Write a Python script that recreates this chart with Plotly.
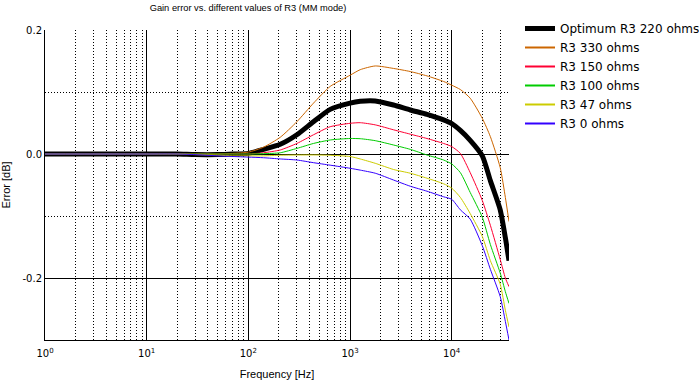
import plotly.graph_objects as go

# Frequency points (Hz)
freq = [1, 10, 20, 30, 50, 70, 100, 141, 206, 300, 437, 638, 1000, 1260, 1770,
        2680, 3915, 5710, 8320, 10000, 12160, 15200, 20000, 24000, 30000, 33700, 36600]

r3_220 = [0, 0, 0, -0.001, -0.001, 0, 0.001, 0.0075, 0.0156, 0.031, 0.052, 0.072, 0.082, 0.085, 0.0855,
          0.079, 0.071, 0.064, 0.055, 0.049, 0.038, 0.022, -0.003, -0.043, -0.09, -0.135, -0.172]
r3_330 = [0, 0, 0, 0, 0, 0.001, 0.003, 0.011, 0.027, 0.052, 0.082, 0.109, 0.127, 0.136, 0.142,
          0.138, 0.133, 0.126, 0.117, 0.111, 0.104, 0.09, 0.0575, 0.028, -0.022, -0.07, -0.109]
r3_150 = [0, 0, 0, 0, 0, 0, 0.0, 0.002, 0.0065, 0.017, 0.031, 0.044, 0.0495, 0.0505, 0.047,
          0.039, 0.032, 0.025, 0.017, 0.012, 0.001, -0.03, -0.075, -0.115, -0.17, -0.2, -0.214]
r3_100 = [0, 0, 0, 0, 0, 0, 0, 0.0005, 0.002, 0.009, 0.017, 0.0226, 0.025, 0.0247, 0.0215,
          0.0145, 0.0075, -0.0016, -0.0097, -0.016, -0.03, -0.062, -0.102, -0.146, -0.192, -0.222, -0.241]
r3_47 = [0, 0, 0, -0.001, -0.002, -0.003, -0.003, -0.003, -0.002, -0.0016, -0.0015, -0.002, -0.004, -0.008, -0.015,
         -0.025, -0.031, -0.039, -0.048, -0.055, -0.07, -0.096, -0.133, -0.172, -0.21, -0.252, -0.279]
r3_0 = [0, 0, 0, -0.001, -0.003, -0.004, -0.005, -0.006, -0.008, -0.0097, -0.014, -0.018, -0.023, -0.026, -0.031,
        -0.042, -0.052, -0.06, -0.069, -0.073, -0.09, -0.105, -0.148, -0.186, -0.23, -0.27, -0.3]

series_names = ["Optimum R3 220 ohms", "R3 330 ohms", "R3 150 ohms", "R3 100 ohms", "R3 47 ohms", "R3 0 ohms"]
series_values = [r3_220, r3_330, r3_150, r3_100, r3_47, r3_0]
series_colors = ["#000000", "#cc6600", "#ff0033", "#00cc00", "#cccc00", "#3300ff"]
series_widths = [5, 1, 1, 1, 1, 1]
legend_widths = [5, 2, 2, 2, 2, 2]

x_major = [1, 10, 100, 1000, 10000]
x_major_text = ["10<sup>0</sup>", "10<sup>1</sup>", "10<sup>2</sup>", "10<sup>3</sup>", "10<sup>4</sup>"]
x_minor = [m * d for d in [1, 10, 100, 1000, 10000] for m in range(2, 10) if m * d < 36600]
y_major = [-0.2, 0.0, 0.2]
y_major_text = ["-0.2", "0.0", "0.2"]
y_minor = [-0.1, 0.1]

fig = go.Figure()
for i, (name, vals, col, w, lw) in enumerate(zip(series_names, series_values, series_colors,
                                                 series_widths, legend_widths)):
    fig.add_trace(go.Scatter(x=freq, y=vals, mode="lines", name=name, showlegend=False,
                             legendgroup=name,
                             line=dict(color=col, width=w, shape="spline", smoothing=0.6)))
    # legend-only entry (legend swatch drawn a bit thicker, as in the original)
    fig.add_trace(go.Scatter(x=[None], y=[None], mode="lines", name=name, legendgroup=name,
                             legendrank=i + 1, line=dict(color=col, width=lw)))

font = "DejaVu Sans"
fig.update_layout(
    width=699, height=380,
    margin=dict(l=45, r=190, t=30, b=40, autoexpand=False),
    paper_bgcolor="white", plot_bgcolor="white",
    title=dict(text="Gain error vs. different values of R3 (MM mode)", x=248 / 699,
               xanchor="center", xref="container",
               y=1 - 4 / 380, yanchor="top", yref="container",
               font=dict(family="Liberation Sans", size=9.3, color="black")),
    font=dict(family=font, size=11, color="black"),
    legend=dict(x=(520 - 45) / 464, xanchor="left", y=(340 - 14) / 310, yanchor="top",
                font=dict(family=font, size=12, color="black"),
                bgcolor="rgba(0,0,0,0)", tracegroupgap=0),
    showlegend=True,
)
fig.update_xaxes(
    type="log", range=[0, 4.5635], automargin=False,
    tickvals=x_major, ticktext=x_major_text, ticks="", ticklabelstandoff=4,
    showgrid=True, gridcolor="black", gridwidth=1,
    showline=True, linecolor="black", linewidth=1,
    zeroline=False,
    minor=dict(tickvals=x_minor, showgrid=True, gridcolor="black", griddash="1px,2px", gridwidth=1, ticks=""),
    title=dict(text="Frequency [Hz]", font=dict(family="Liberation Sans", size=11), standoff=13),
    tickfont=dict(family=font, size=10),
)
fig.update_yaxes(
    range=[-0.3, 0.2], automargin=False,
    tickvals=y_major, ticktext=y_major_text, ticks="",
    showgrid=True, gridcolor="black", gridwidth=1,
    showline=True, linecolor="black", linewidth=1,
    zeroline=False,
    minor=dict(tickvals=y_minor, showgrid=True, gridcolor="black", griddash="1px,2px", gridwidth=1, ticks=""),
    title=dict(text="Error [dB]", font=dict(family="Liberation Sans", size=11), standoff=12),
    tickfont=dict(family=font, size=10),
)

fig.write_html("out.html", config={"displayModeBar": False},
               post_script="document.body.style.margin='0';document.body.style.overflow='hidden';")
